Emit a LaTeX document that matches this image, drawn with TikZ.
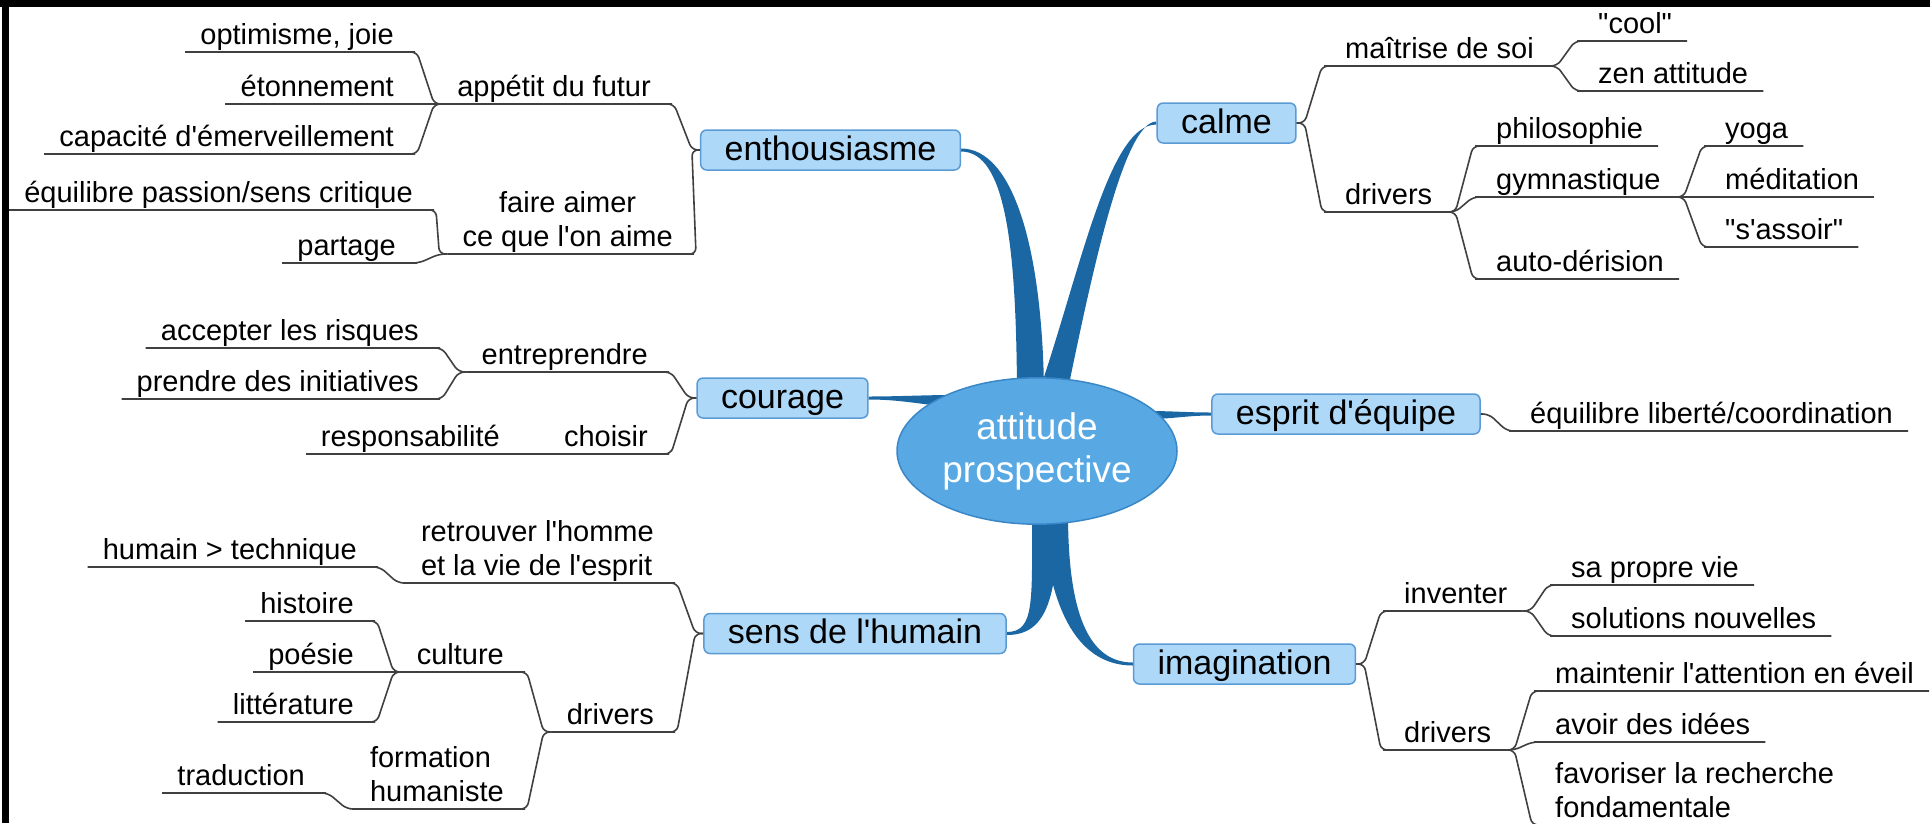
\documentclass[tikz,border=0pt]{standalone}
\usepackage{fontspec}
\setmainfont{Liberation Sans}[Ligatures=TeXOff]
\usetikzlibrary{shapes.geometric}
\definecolor{boxfill}{RGB}{173,216,247}
\definecolor{boxline}{RGB}{91,155,213}
\definecolor{rootfill}{RGB}{88,168,228}
\definecolor{rootline}{RGB}{58,135,200}
\definecolor{ribbon}{RGB}{27,103,163}
\definecolor{twigline}{RGB}{64,64,64}
\pgfdeclarelayer{bg}
\pgfsetlayers{bg,main}
\tikzset{
  topic/.style={draw=boxline, fill=boxfill, line width=1.5pt, rounded corners=6pt, inner xsep=24pt, inner ysep=0pt, minimum height=40pt, text height=25pt, text depth=5pt, font=\fontsize{34}{40}\selectfont},
  root/.style={ellipse, draw=rootline, fill=rootfill, line width=1.5pt, minimum width=280pt, minimum height=144pt, inner xsep=3pt, inner ysep=13pt, text=white, align=center, font=\fontsize{37}{43}\selectfont},
  twig/.style={inner xsep=15pt, inner ysep=0pt, font=\fontsize{29}{34}\selectfont, execute at end node={\rule[-7pt]{0pt}{7pt}}},
  twigL/.style={twig, anchor=south east},
  twigR/.style={twig, anchor=south west},
  link/.style={draw=twigline, line width=1.6pt, rounded corners=6pt},
  leftjoin/.style={to path={-- ++(8,0) -- ([xshift=-8pt]\tikztotarget) -- (\tikztotarget)}},
  rightjoin/.style={to path={-- ++(-8,0) -- ([xshift=8pt]\tikztotarget) -- (\tikztotarget)}},
  band/.style={fill=ribbon, draw=none}
}

\begin{document}
\begin{tikzpicture}[x=1pt, y=-1pt]
\useasboundingbox (0,0) rectangle (1930,823);
\fill[black] (0,0) rectangle (1930,7);
\fill[black] (2,0) rectangle (9,823);

\node[root] (root) at (1037,451) {attitude\\prospective};
\node[topic] (enth) at (830.5,150) {enthousiasme};
\node[topic] (cour) at (782.5,398) {courage};
\node[topic] (sens) at (855,633.5) {sens de l'humain};
\node[topic] (calm) at (1226.5,123) {calme};
\node[topic] (team) at (1346,414) {esprit d'équipe};
\node[topic] (imag) at (1244.5,664) {imagination};

\node[twigL] (opt) at (409,52) {optimisme, joie};
\node[twigL] (eto) at (409,104) {étonnement};
\node[twigL] (cap) at (409,154) {capacité d'émerveillement};
\node[twigL] (app) at (666,104) {appétit du futur};
\node[twigL] (pas) at (428,210) {équilibre passion/sens critique};
\node[twigL] (par) at (411,263) {partage};
\node[twigL, align=center] (aim) at (688,254) {faire aimer\\ce que l'on aime};
\node[twigL] (ris) at (434,348) {accepter les risques};
\node[twigL] (ini) at (434,399) {prendre des initiatives};
\node[twigL] (ent) at (663,372) {entreprendre};
\node[twigL] (res) at (515,454) {responsabilité};
\node[twigL] (cho) at (663,454) {choisir};
\node[twigL] (tec) at (372,567) {humain > technique};
\node[twigL, align=left] (ret) at (669,583) {retrouver l'homme\\et la vie de l'esprit};
\node[twigL] (his) at (369,621) {histoire};
\node[twigL] (poe) at (369,672) {poésie};
\node[twigL] (lit) at (369,722) {littérature};
\node[twigL] (cul) at (519,672) {culture};
\node[twigL] (drl) at (669,732) {drivers};
\node[twigL, align=left] (hum) at (519,809) {formation\\humaniste};
\node[twigL] (tra) at (320,793) {traduction};

\node[twigR] (mai) at (1330,66) {maîtrise de soi};
\node[twigR] (coo) at (1583,41) {"cool"};
\node[twigR] (zen) at (1583,91) {zen attitude};
\node[twigR] (drc) at (1330,212) {drivers};
\node[twigR] (phi) at (1481,146) {philosophie};
\node[twigR] (gym) at (1481,197) {gymnastique};
\node[twigR] (aut) at (1481,279) {auto-dérision};
\node[twigR] (yog) at (1710,146) {yoga};
\node[twigR] (med) at (1710,197) {méditation};
\node[twigR] (ass) at (1710,247) {"s'assoir"};
\node[twigR] (lib) at (1515,431) {équilibre liberté/coordination};
\node[twigR] (inv) at (1389,611) {inventer};
\node[twigR] (vie) at (1556,585) {sa propre vie};
\node[twigR] (sol) at (1556,636) {solutions nouvelles};
\node[twigR] (dri) at (1389,750) {drivers};
\node[twigR] (eve) at (1540,691) {maintenir l'attention en éveil};
\node[twigR] (ide) at (1540,742) {avoir des idées};
\node[twigR, align=left] (fon) at (1540,825) {favoriser la recherche\\fondamentale};

\begin{pgfonlayer}{bg}
\fill[band] ([shift={(0,-1.5)}]enth.east) .. controls +(52,0) and +(-2,-141) .. ([shift={(7,12)}]root.north) -- ([shift={(-20,12)}]root.north) .. controls +(-1,-141) and +(45,0) .. ([shift={(0,1.5)}]enth.east) -- cycle;
\fill[band] ([shift={(0,-1.5)}]calm.west) .. controls +(-32,0) and +(25,-121) .. ([shift={(31,12)}]root.north) -- ([shift={(3,12)}]root.north) .. controls +(42,-125) and +(-47,0) .. ([shift={(0,1.5)}]calm.west) -- cycle;
\fill[band] ([shift={(0,-1.5)}]sens.east) .. controls +(28,0) and +(0,89) .. ([shift={(-5,-12)}]root.south) -- ([shift={(21,-12)}]root.south) .. controls +(0,89) and +(38,0) .. ([shift={(0,1.5)}]sens.east) -- cycle;
\fill[band] ([shift={(0,-1.5)}]imag.west) .. controls +(-49,0) and +(0,89) .. ([shift={(31,-12)}]root.south) -- ([shift={(5,-12)}]root.south) .. controls +(6,89) and +(-59,0) .. ([shift={(0,1.5)}]imag.west) -- cycle;
\fill[band] ([shift={(0,-1.5)}]cour.east) .. controls +(30,0) and +(-30,0) .. ([shift={(58,-56)}]root.west) -- ([shift={(53,-44)}]root.west) .. controls +(-30,-3) and +(30,0) .. ([shift={(0,1.5)}]cour.east) -- cycle;
\fill[band] ([shift={(0,-1.5)}]team.west) .. controls +(-25,0) and +(25,0) .. ([shift={(-30,-40)}]root.east) -- ([shift={(-30,-32)}]root.east) .. controls +(25,0) and +(-25,0) .. ([shift={(0,1.5)}]team.west) -- cycle;
\end{pgfonlayer}

\draw[link] (opt.south west) -- (opt.south east) to[leftjoin] (app.south west);
\draw[link] (eto.south west) -- (eto.south east) to[leftjoin] (app.south west);
\draw[link] (cap.south west) -- (cap.south east) to[leftjoin] (app.south west);
\draw[link] (app.south west) -- (app.south east) to[leftjoin] (enth.west);
\draw[link] (pas.south west) -- (pas.south east) to[leftjoin] (aim.south west);
\draw[link] (par.south west) -- (par.south east) to[leftjoin] (aim.south west);
\draw[link] (aim.south west) -- (aim.south east) to[leftjoin] (enth.west);
\draw[link] (ris.south west) -- (ris.south east) to[leftjoin] (ent.south west);
\draw[link] (ini.south west) -- (ini.south east) to[leftjoin] (ent.south west);
\draw[link] (ent.south west) -- (ent.south east) to[leftjoin] (cour.west);
\draw[link] (res.south west) -- (res.south east) to[leftjoin] (cho.south west);
\draw[link] (cho.south west) -- (cho.south east) to[leftjoin] (cour.west);
\draw[link] (tec.south west) -- (tec.south east) to[leftjoin] (ret.south west);
\draw[link] (ret.south west) -- (ret.south east) to[leftjoin] (sens.west);
\draw[link] (his.south west) -- (his.south east) to[leftjoin] (cul.south west);
\draw[link] (poe.south west) -- (poe.south east) to[leftjoin] (cul.south west);
\draw[link] (lit.south west) -- (lit.south east) to[leftjoin] (cul.south west);
\draw[link] (cul.south west) -- (cul.south east) to[leftjoin] (drl.south west);
\draw[link] (tra.south west) -- (tra.south east) to[leftjoin] (hum.south west);
\draw[link] (hum.south west) -- (hum.south east) to[leftjoin] (drl.south west);
\draw[link] (drl.south west) -- (drl.south east) to[leftjoin] (sens.west);

\draw[link] (coo.south east) -- (coo.south west) to[rightjoin] (mai.south east);
\draw[link] (zen.south east) -- (zen.south west) to[rightjoin] (mai.south east);
\draw[link] (mai.south east) -- (mai.south west) to[rightjoin] (calm.east);
\draw[link] (phi.south east) -- (phi.south west) to[rightjoin] (drc.south east);
\draw[link] (yog.south east) -- (yog.south west) to[rightjoin] (gym.south east);
\draw[link] (med.south east) -- (med.south west) to[rightjoin] (gym.south east);
\draw[link] (ass.south east) -- (ass.south west) to[rightjoin] (gym.south east);
\draw[link] (gym.south east) -- (gym.south west) to[rightjoin] (drc.south east);
\draw[link] (aut.south east) -- (aut.south west) to[rightjoin] (drc.south east);
\draw[link] (drc.south east) -- (drc.south west) to[rightjoin] (calm.east);
\draw[link] (lib.south east) -- (lib.south west) to[rightjoin] (team.east);
\draw[link] (vie.south east) -- (vie.south west) to[rightjoin] (inv.south east);
\draw[link] (sol.south east) -- (sol.south west) to[rightjoin] (inv.south east);
\draw[link] (inv.south east) -- (inv.south west) to[rightjoin] (imag.east);
\draw[link] (eve.south east) -- (eve.south west) to[rightjoin] (dri.south east);
\draw[link] (ide.south east) -- (ide.south west) to[rightjoin] (dri.south east);
\draw[link] (fon.south east) -- (fon.south west) to[rightjoin] (dri.south east);
\draw[link] (dri.south east) -- (dri.south west) to[rightjoin] (imag.east);
\end{tikzpicture}
\end{document}
